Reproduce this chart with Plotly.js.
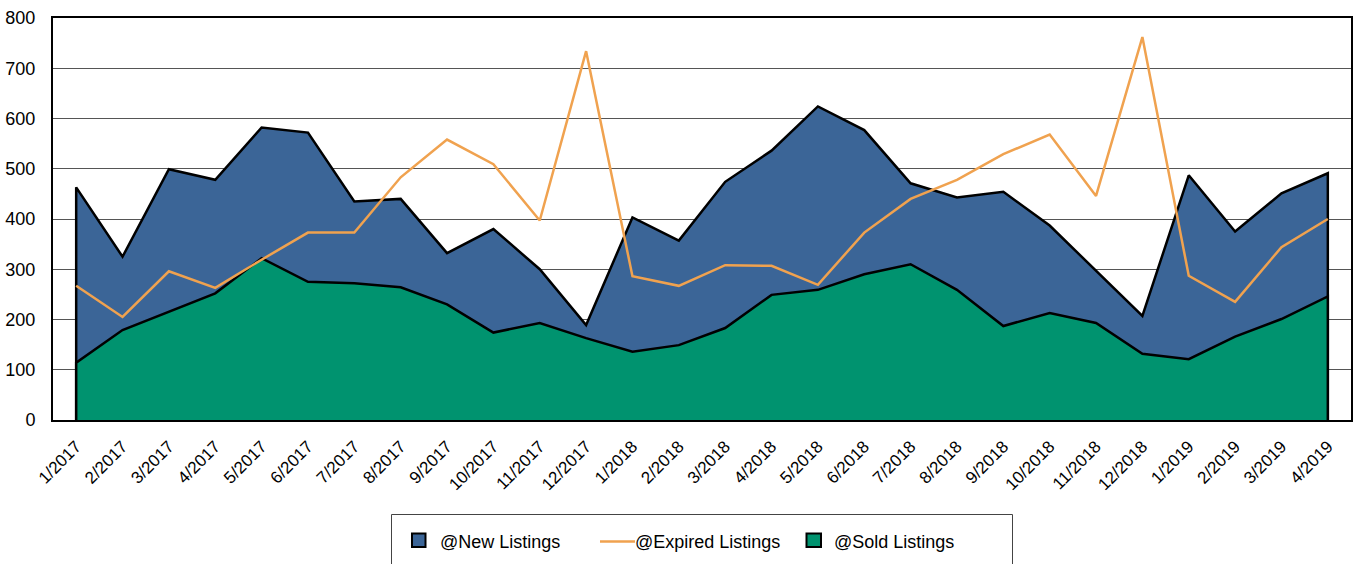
<!DOCTYPE html>
<html>
<head>
<meta charset="utf-8">
<script src="https://cdn.plot.ly/plotly-3.0.1.min.js"></script>
<style>html,body{margin:0;padding:0;background:#fff;}#chart{width:1354px;height:564px;}</style>
</head>
<body>
<div id="chart"></div>
<script>
const categories = ['1/2017','2/2017','3/2017','4/2017','5/2017','6/2017','7/2017','8/2017','9/2017','10/2017','11/2017','12/2017',
  '1/2018','2/2018','3/2018','4/2018','5/2018','6/2018','7/2018','8/2018','9/2018','10/2018','11/2018','12/2018',
  '1/2019','2/2019','3/2019','4/2019'];
const newListings = [463,325,499,478,582,572,435,440,332,380,300,189,403,357,474,536,624,577,471,443,454,387,298,207,487,375,451,491];
const soldListings = [114,179,216,252,322,275,272,264,230,174,193,163,136,149,183,249,259,290,310,259,187,213,193,132,121,166,201,246];
const expiredListings = [267,205,296,263,319,373,373,483,558,509,397,734,286,267,308,307,269,373,440,478,529,568,446,762,287,235,344,400];
const seriesNames = ['@New Listings','@Expired Listings','@Sold Listings'];

const BLUE = '#3B6597', GREEN = '#00936F', ORANGE = '#F0A24F';

// closed outline: start and end on the baseline at the first/last category
function edgeX(){ return [categories[0]].concat(categories, [categories[categories.length-1]]); }
function edgeY(v){ return [0].concat(v, [0]); }

const traces = [
  {type:'scatter', mode:'lines', name:seriesNames[0], x:edgeX(), y:edgeY(newListings),
   fill:'toself', fillcolor:BLUE, line:{color:'#000', width:2.5}, showlegend:false, hoverinfo:'skip'},
  {type:'scatter', mode:'lines', name:seriesNames[2], x:edgeX(), y:edgeY(soldListings),
   fill:'toself', fillcolor:GREEN, line:{color:'#000', width:2.5}, showlegend:false, hoverinfo:'skip'},
  {type:'scatter', mode:'lines', name:seriesNames[1], x:categories, y:expiredListings,
   line:{color:ORANGE, width:2.5}, showlegend:false}
];

const L = 53, R = 1351, T = 18, B = 420;
const px = x => (x - L) / (R - L);
const py = y => (B - y) / (B - T);

const font = 'Liberation Sans, Arial, sans-serif';
const shapes = [
  {type:'rect', xref:'paper', yref:'paper', x0:px(391.5), x1:px(1012.5), y0:py(514.5), y1:py(575),
   line:{color:'#444', width:1}, fillcolor:'rgba(0,0,0,0)'},
  {type:'rect', xref:'paper', yref:'paper', x0:px(412), x1:px(425.5), y0:py(533.5), y1:py(547),
   line:{color:'#000', width:2}, fillcolor:BLUE},
  {type:'line', xref:'paper', yref:'paper', x0:px(600), x1:px(635), y0:py(541.5), y1:py(541.5),
   line:{color:ORANGE, width:2.5}},
  {type:'rect', xref:'paper', yref:'paper', x0:px(806.5), x1:px(821), y0:py(533.5), y1:py(547),
   line:{color:'#000', width:2}, fillcolor:GREEN}
];
const legendX = [438, 633, 832];
const annotations = seriesNames.map((t, i) => ({
  xref:'paper', yref:'paper', x:px(legendX[i]), y:py(541.5),
  xanchor:'left', yanchor:'middle', showarrow:false, text:t,
  font:{family:font, size:18, color:'#000'}
}));

const layout = {
  width:1354, height:564,
  margin:{l:L, r:1354-R, t:T, b:564-B, pad:0},
  paper_bgcolor:'#fff', plot_bgcolor:'#fff',
  font:{family:font, color:'#000'},
  showlegend:false,
  xaxis:{type:'category', categoryorder:'array', categoryarray:categories, range:[-0.5, categories.length-0.5],
    tickangle:-45, tickfont:{size:17, family:font, color:'#000'},
    showline:true, linecolor:'#000', linewidth:2, mirror:true, showgrid:false, zeroline:false,
    ticks:'', ticklabelstandoff:8, fixedrange:true},
  yaxis:{range:[0,800], dtick:100, tick0:0, tickfont:{size:18, family:font, color:'#000'},
    showline:true, linecolor:'#000', linewidth:2, mirror:true,
    showgrid:true, gridcolor:'#555', gridwidth:1, zeroline:false, ticks:'', ticklabelstandoff:12, fixedrange:true},
  shapes:shapes,
  annotations:annotations
};

Plotly.newPlot('chart', traces, layout, {staticPlot:true, displayModeBar:false});
</script>
</body>
</html>
